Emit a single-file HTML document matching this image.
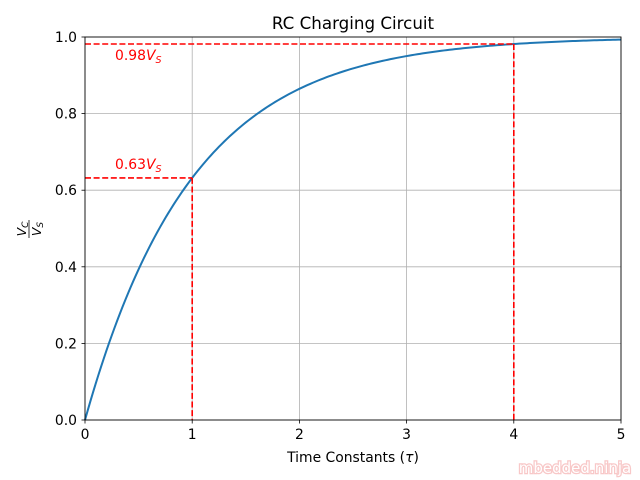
<!DOCTYPE html>
<html><head><style>body{margin:0;background:#fff}svg{display:block}text{font-family:"DejaVu Sans","Liberation Sans",sans-serif}</style></head>
<body>
<svg id="s" width="640" height="480" xmlns="http://www.w3.org/2000/svg">
<rect width="640" height="480" fill="#fff"/>
<g stroke="#b0b0b0" stroke-width="0.8">
<line x1="192.2" y1="37" x2="192.2" y2="420"/><line x1="299.4" y1="37" x2="299.4" y2="420"/><line x1="406.6" y1="37" x2="406.6" y2="420"/><line x1="513.8" y1="37" x2="513.8" y2="420"/>
<line x1="85" y1="343.4" x2="621" y2="343.4"/><line x1="85" y1="266.8" x2="621" y2="266.8"/><line x1="85" y1="190.2" x2="621" y2="190.2"/><line x1="85" y1="113.6" x2="621" y2="113.6"/>
</g>
<path id="c" fill="none" stroke="#1f77b4" stroke-width="2"/>
<g stroke="red" stroke-width="1.6" stroke-dasharray="6,2.6" fill="none">
<line x1="85" y1="177.9" x2="192.2" y2="177.9"/><line x1="192.2" y1="177.9" x2="192.2" y2="420"/>
<line x1="85" y1="44" x2="513.8" y2="44"/><line x1="513.8" y1="44" x2="513.8" y2="420"/>
</g>
<rect x="85" y="37" width="536" height="383" fill="none" stroke="#000" stroke-width="0.9"/>
<g stroke="#000" stroke-width="0.8">
<line x1="85" y1="420" x2="85" y2="423.5"/><line x1="192.2" y1="420" x2="192.2" y2="423.5"/><line x1="299.4" y1="420" x2="299.4" y2="423.5"/><line x1="406.6" y1="420" x2="406.6" y2="423.5"/><line x1="513.8" y1="420" x2="513.8" y2="423.5"/><line x1="621" y1="420" x2="621" y2="423.5"/>
<line x1="81.5" y1="420" x2="85" y2="420"/><line x1="81.5" y1="343.4" x2="85" y2="343.4"/><line x1="81.5" y1="266.8" x2="85" y2="266.8"/><line x1="81.5" y1="190.2" x2="85" y2="190.2"/><line x1="81.5" y1="113.6" x2="85" y2="113.6"/><line x1="81.5" y1="37" x2="85" y2="37"/>
</g>
<g font-size="13.9" text-anchor="middle" fill="#000">
<text x="85" y="439">0</text><text x="192.2" y="439">1</text><text x="299.4" y="439">2</text><text x="406.6" y="439">3</text><text x="513.8" y="439">4</text><text x="621" y="439">5</text>
</g>
<g font-size="13.9" text-anchor="end" fill="#000">
<text x="77" y="425">0.0</text><text x="77" y="348.4">0.2</text><text x="77" y="271.8">0.4</text><text x="77" y="195.2">0.6</text><text x="77" y="118.6">0.8</text><text x="77" y="42">1.0</text>
</g>
<text x="353" y="29" font-size="16.7" text-anchor="middle">RC Charging Circuit</text>
<text x="353" y="462" font-size="13.9" text-anchor="middle">Time Constants (<tspan font-style="italic">τ</tspan>)</text>
<g transform="translate(29,229) rotate(-90)" font-size="12.5" font-style="italic" text-anchor="middle">
<text x="0" y="-3">V<tspan font-size="9" dy="2">C</tspan></text>
<line x1="-9" y1="0" x2="9" y2="0" stroke="#000" stroke-width="0.8"/>
<text x="0" y="12">V<tspan font-size="9" dy="2">S</tspan></text>
</g>
<text x="115" y="60" font-size="13.9" fill="red">0.98<tspan font-style="italic">V</tspan><tspan font-size="9.5" font-style="italic" dy="3">S</tspan></text>
<text x="115" y="169" font-size="13.9" fill="red">0.63<tspan font-style="italic">V</tspan><tspan font-size="9.5" font-style="italic" dy="3">S</tspan></text>
<text x="575" y="473" font-size="15" text-anchor="middle" fill="#fff" stroke="#f8c8c8" stroke-width="2.5" paint-order="stroke">mbedded.ninja</text>
</svg>
<script>
var d="";for(var i=0;i<=200;i++){var t=i*5/200;var x=85+t*107.2,y=420-(1-Math.exp(-t))*383;d+=(i?"L":"M")+x.toFixed(2)+" "+y.toFixed(2);}
document.getElementById("c").setAttribute("d",d);
</script>
</body></html>
